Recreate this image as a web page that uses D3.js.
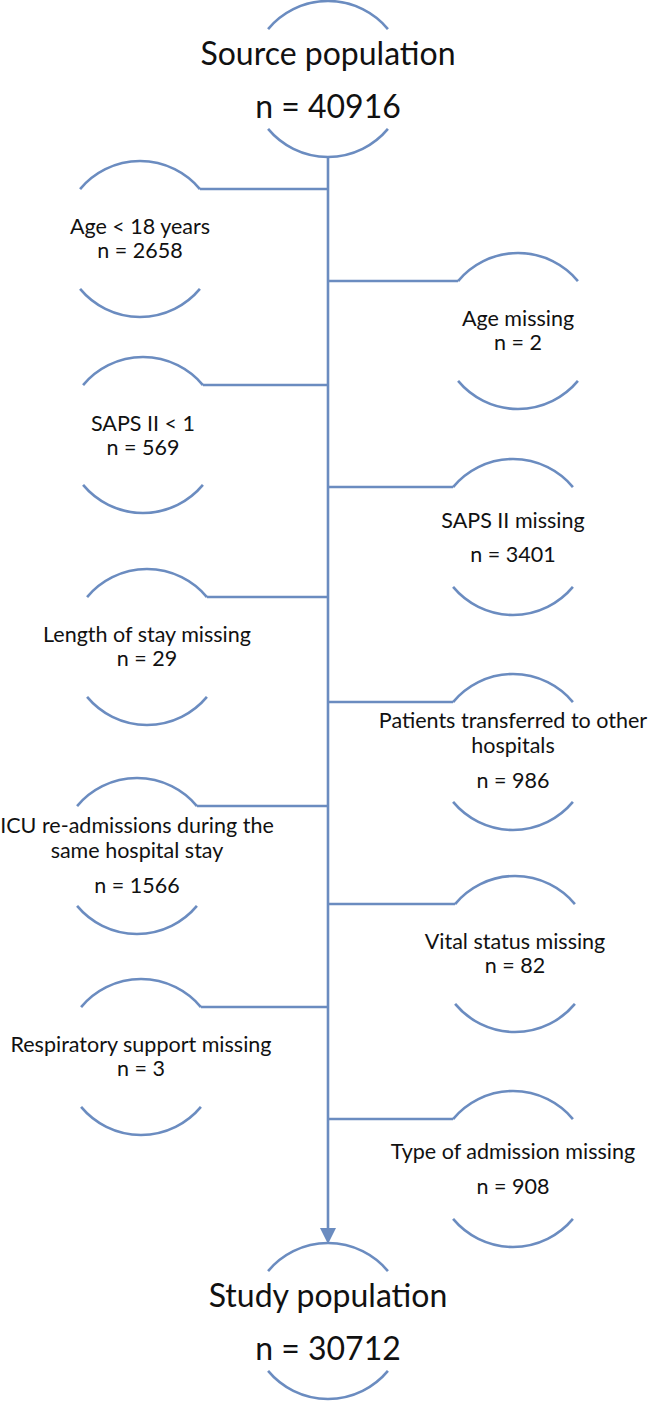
<!DOCTYPE html>
<html>
<head>
<meta charset="utf-8">
<script src="https://cdn.jsdelivr.net/npm/d3@7"></script>
<style>
  html, body { margin: 0; padding: 0; background: #fff; }
  svg { display: block; }
  text { font-family: Lato, "Open Sans", sans-serif; fill: #111; }
</style>
</head>
<body>
<div id="chart"></div>
<script>
// ---------------- data ----------------
const sourceLabel = "Source population";
const sourceCount = 40916;
const studyLabel = "Study population";
const studyCount = 30712;

const exclusionSteps = ["age", "ageMissing", "saps", "sapsMissing", "los", "transfer", "icu", "vital", "resp", "admission"];
const exclusionLabels = [
  ["Age < 18 years"],
  ["Age missing"],
  ["SAPS II < 1"],
  ["SAPS II missing"],
  ["Length of stay missing"],
  ["Patients transferred to other", "hospitals"],
  ["ICU re-admissions during the", "same hospital stay"],
  ["Vital status missing"],
  ["Respiratory support missing"],
  ["Type of admission missing"]
];
const exclusionCounts = [2658, 2, 569, 3401, 29, 986, 1566, 82, 3, 908];
const exclusionSides = ["left", "right", "left", "right", "left", "right", "left", "right", "left", "right"];

// ---------------- layout ----------------
const W = 651, H = 1402;
const mainX = 328;
const R = 78, HALF_W = 60, END_DY = 50;
const lineColor = "#6b8cc0";
const bigFont = 32, smallFont = 21.5;

const nodeCy = d3.scaleOrdinal()
  .domain(["source", ...exclusionSteps, "study"])
  .range([79, 239, 331, 435, 537, 647, 752, 856, 954, 1057, 1169, 1321]);
const nodeCx = d3.scaleOrdinal()
  .domain(["source", ...exclusionSteps, "study"])
  .range([mainX, 140, 518, 143, 513, 147, 513, 137, 515, 141, 513, mainX]);
// text baselines relative to node centre
const labelDy = [-5, -5, -4, -9, -5, -24, -23, -5, -5, -10];
const countDy = [19, 19, 20, 25, 19, 36, 37, 19, 19, 25];
const lineGap = 25;

const svg = d3.select("#chart").append("svg")
  .attr("width", W).attr("height", H);

const aTop0 = Math.atan2(-END_DY, -HALF_W), aTop1 = Math.atan2(-END_DY, HALF_W);
const aBot0 = Math.atan2(END_DY, HALF_W), aBot1 = Math.atan2(END_DY, -HALF_W);

function bracket(cx, cy) {
  const p = d3.path();
  p.arc(cx, cy, R, aTop0, aTop1);
  p.moveTo(cx + R * Math.cos(aBot0), cy + R * Math.sin(aBot0));
  p.arc(cx, cy, R, aBot0, aBot1);
  return p.toString();
}

const g = svg.append("g");

// main vertical line
const yTop = nodeCy("source") + R;
const yArrowTip = nodeCy("study") - R + 1;
g.append("line")
  .attr("x1", mainX).attr("x2", mainX)
  .attr("y1", yTop).attr("y2", yArrowTip - 12)
  .attr("stroke", lineColor).attr("stroke-width", 2.6);
g.append("path")
  .attr("d", d3.line()([[mainX - 8, yArrowTip - 16], [mainX + 8, yArrowTip - 16], [mainX, yArrowTip]]) + "Z")
  .attr("fill", lineColor);

// main nodes
[["source", sourceLabel, sourceCount], ["study", studyLabel, studyCount]].forEach(([key, label, n]) => {
  const cx = nodeCx(key), cy = nodeCy(key);
  g.append("path").attr("d", bracket(cx, cy))
    .attr("fill", "none").attr("stroke", lineColor).attr("stroke-width", 2.6);
  g.append("text").attr("x", cx).attr("y", cy - 14)
    .attr("text-anchor", "middle").attr("font-size", bigFont).text(label);
  g.append("text").attr("x", cx).attr("y", cy + 39)
    .attr("text-anchor", "middle").attr("font-size", bigFont).text("n = " + n);
});

// exclusion nodes
exclusionSteps.forEach((key, i) => {
  const cx = nodeCx(key), cy = nodeCy(key);
  const side = exclusionSides[i];
  const attachX = side === "left" ? cx + HALF_W : cx - HALF_W;
  const yConn = cy - END_DY;
  g.append("line")
    .attr("x1", attachX).attr("x2", mainX)
    .attr("y1", yConn).attr("y2", yConn)
    .attr("stroke", lineColor).attr("stroke-width", 2.6);
  g.append("path").attr("d", bracket(cx, cy))
    .attr("fill", "none").attr("stroke", lineColor).attr("stroke-width", 2.6);
  exclusionLabels[i].forEach((line, j) => {
    g.append("text").attr("x", cx).attr("y", cy + labelDy[i] + j * lineGap)
      .attr("text-anchor", "middle").attr("font-size", smallFont).text(line);
  });
  g.append("text").attr("x", cx).attr("y", cy + countDy[i])
    .attr("text-anchor", "middle").attr("font-size", smallFont).text("n = " + exclusionCounts[i]);
});
</script>
</body>
</html>
